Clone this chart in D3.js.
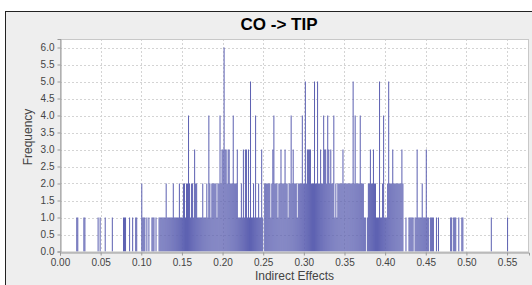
<!DOCTYPE html>
<html><head><meta charset="utf-8">
<script src="https://cdn.jsdelivr.net/npm/d3@7"></script>
<style>html,body{margin:0;padding:0;background:#fff;}svg{display:block;}</style>
</head><body>
<script>
const title = "CO -> TIP";
const xLabel = "Indirect Effects";
const yLabel = "Frequency";
const binStart = 0.02;
const binWidth = 0.00125;
const counts = [
1,1,0,0,0,0,0,1,1,0,
0,0,0,0,0,0,0,0,0,0,
0,1,0,1,0,0,0,0,1,0,
0,0,0,0,0,1,0,0,0,0,
0,0,0,0,0,0,1,1,1,0,
0,0,1,0,0,1,0,0,1,1,
0,0,0,0,2,1,1,1,0,1,
0,1,0,0,1,1,1,0,1,0,
0,1,1,1,1,1,1,1,2,1,
1,1,1,1,1,2,1,1,1,1,
1,2,1,1,1,2,2,1,2,2,
4,2,1,2,2,1,3,2,2,1,
1,1,1,1,2,1,1,1,2,1,
4,2,1,2,2,2,2,2,1,2,
2,4,2,3,3,6,3,3,2,3,
3,2,2,2,4,2,2,2,3,1,
1,1,2,1,3,1,3,3,1,3,
1,5,1,1,2,1,4,1,1,2,
1,1,3,1,0,2,2,2,2,2,
2,1,2,3,4,2,2,2,1,2,
2,3,2,2,2,3,2,2,1,2,
2,4,2,3,2,2,2,1,2,2,
2,2,4,2,2,5,2,3,3,3,
3,2,2,2,5,2,2,5,2,2,
3,2,2,4,3,3,2,4,3,2,
3,2,2,4,1,2,1,2,2,2,
2,2,3,2,2,2,2,2,2,2,
2,2,5,2,4,2,2,2,2,4,
2,2,2,1,1,0,1,2,2,3,
2,2,3,2,2,1,1,1,5,1,
1,2,4,1,1,1,2,5,2,2,
2,3,2,2,2,2,2,2,2,2,
3,2,0,0,1,0,0,1,1,1,
1,1,0,1,1,3,1,1,1,1,
2,1,1,1,3,1,1,0,1,1,
1,1,0,0,1,0,1,0,0,0,
0,0,0,0,0,0,0,0,1,1,
0,1,1,1,0,0,1,0,0,1,
1,0,0,0,0,0,0,0,0,0,
0,0,0,0,0,0,0,0,0,0,
0,0,0,0,0,0,0,0,1,0,
0,0,0,0,0,0,0,0,0,0,
0,0,0,0,1,0,0,0
];
const xTicks = [0,0.05,0.10,0.15,0.20,0.25,0.30,0.35,0.40,0.45,0.50,0.55];
const yTicks = [0,0.5,1,1.5,2,2.5,3,3.5,4,4.5,5,5.5,6];
const xDomain = [0, 0.577];
const yDomain = [0, 6.25];

const W = 532, H = 285;
const P = {left: 60, right: 529, top: 39, bottom: 251.5};
const svg = d3.select("body").append("svg").attr("width", W).attr("height", H);
svg.append("rect").attr("x",0).attr("y",0).attr("width",W).attr("height",H).attr("fill","#fff");
svg.append("rect").attr("x",5.5).attr("y",11.5).attr("width",530).attr("height",290)
  .attr("fill","#eeeeee").attr("stroke","#222").attr("stroke-width",1);

const x = d3.scaleLinear().domain(xDomain).range([P.left, P.right]);
const y = d3.scaleLinear().domain(yDomain).range([P.bottom, P.top]);

svg.append("rect").attr("x",P.left).attr("y",P.top).attr("width",P.right-P.left).attr("height",P.bottom-P.top).attr("fill","#fff");

// grid
const g = svg.append("g");
g.selectAll(".gx").data(xTicks.slice(1)).join("line")
  .attr("x1",d=>Math.round(x(d))+0.5).attr("x2",d=>Math.round(x(d))+0.5)
  .attr("y1",P.top).attr("y2",P.bottom).attr("stroke","#d4d4d4").attr("stroke-dasharray","2,2");
g.selectAll(".gy").data(yTicks.slice(1)).join("line")
  .attr("y1",d=>Math.round(y(d))+0.5).attr("y2",d=>Math.round(y(d))+0.5)
  .attr("x1",P.left).attr("x2",P.right).attr("stroke","#d4d4d4").attr("stroke-dasharray","2,2");

// bars
const bins = counts.map((c,i)=>({x0: binStart + i*binWidth, x1: binStart + (i+1)*binWidth, c}));
svg.append("g").selectAll("rect").data(bins.filter(b=>b.c>0)).join("rect")
  .attr("x", d=>x(d.x0)).attr("width", d=>x(d.x1)-x(d.x0))
  .attr("y", d=>y(d.c)).attr("height", d=>y(0)-y(d.c))
  .attr("fill", "#5e62b2");

// border
svg.append("rect").attr("x",P.left+0.5).attr("y",P.top+0.5).attr("width",P.right-P.left-1).attr("height",P.bottom-P.top)
  .attr("fill","none").attr("stroke","#c8c8c8");

// axes
const xAxis = d3.axisBottom(x).tickValues(xTicks).tickFormat(d3.format(".2f")).tickSize(3).tickPadding(3);
const gx = svg.append("g").attr("transform",`translate(0,${Math.round(P.bottom)+0.5})`).call(xAxis);
const yAxis = d3.axisLeft(y).tickValues(yTicks).tickFormat(d3.format(".1f")).tickSize(3).tickPadding(3);
const gy = svg.append("g").attr("transform",`translate(${P.left+0.5},0)`).call(yAxis);
[gx,gy].forEach(a=>{
  a.select(".domain").attr("stroke","#999");
  a.selectAll(".tick line").attr("stroke","#999");
  a.selectAll("text").attr("font-family","Liberation Sans, Arial, sans-serif").attr("font-size","10px").attr("fill","#444");
});

svg.append("text").attr("x",279).attr("y",30).attr("text-anchor","middle")
  .attr("font-family","Liberation Sans, Arial, sans-serif").attr("font-weight","bold").attr("font-size","17px").attr("fill","#000").text(title);
svg.append("text").attr("x",(P.left+P.right)/2).attr("y",280).attr("text-anchor","middle")
  .attr("font-family","Liberation Sans, Arial, sans-serif").attr("font-size","12px").attr("fill","#444").text(xLabel);
svg.append("text").attr("transform","translate(32,137) rotate(-90)").attr("text-anchor","middle")
  .attr("font-family","Liberation Sans, Arial, sans-serif").attr("font-size","12px").attr("fill","#444").text(yLabel);
</script>
</body></html>
